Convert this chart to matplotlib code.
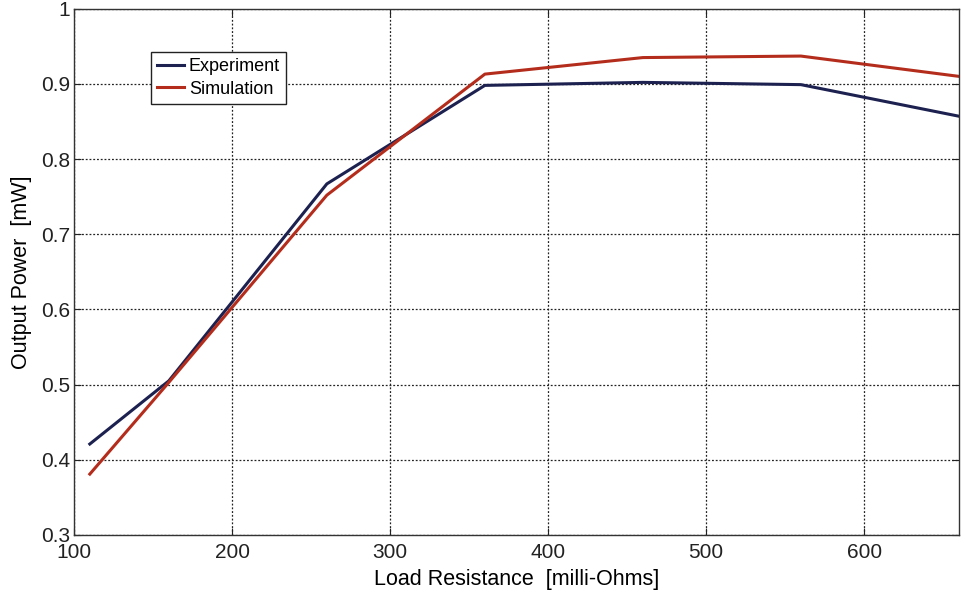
import matplotlib
matplotlib.use("Agg")
import matplotlib.pyplot as plt

plt.rcParams['font.family'] = ['Liberation Sans', 'DejaVu Sans']

resistance = [110, 160, 260, 360, 460, 560, 660]
experiment = [0.421, 0.505, 0.767, 0.898, 0.902, 0.899, 0.857]
simulation = [0.381, 0.503, 0.752, 0.913, 0.935, 0.937, 0.910]

xticks = [100, 200, 300, 400, 500, 600]
yticks = [0.3, 0.4, 0.5, 0.6, 0.7, 0.8, 0.9, 1.0]
yticklabels = ['0.3', '0.4', '0.5', '0.6', '0.7', '0.8', '0.9', '1']

fig = plt.figure(figsize=(9.65, 5.92), dpi=100)
ax = fig.add_axes([0.0767, 0.0963, 0.917, 0.889])

ax.plot(resistance, experiment, color='#1c2150', lw=2.2, label='Experiment')
ax.plot(resistance, simulation, color='#b42d1c', lw=2.2, label='Simulation')

ax.set_xlim(100, 660)
ax.set_ylim(0.3, 1.0)
ax.set_xticks(xticks)
ax.set_yticks(yticks)
ax.set_yticklabels(yticklabels)
ax.tick_params(direction='in', top=True, right=True, labelsize=15, length=5, width=0.8, colors='#222222')
ax.tick_params(axis='x', pad=6)
ax.tick_params(axis='y', pad=3)
ax.grid(True, linestyle=(0, (1.5, 1.5)), color='#222222', lw=0.9)
for s in ax.spines.values():
    s.set_color('#333333')
    s.set_linewidth(1.0)

ax.set_xlabel('Load Resistance  [milli-Ohms]', fontsize=15.5, labelpad=5)
ax.set_ylabel('Output Power  [mW]', fontsize=15.5, labelpad=6)

leg = ax.legend(loc='upper left', bbox_to_anchor=(0.087, 0.918), borderaxespad=0,
                fontsize=13, handlelength=1.5, handletextpad=0.25, borderpad=0.35,
                labelspacing=0.3, fancybox=False, framealpha=1)
leg.get_frame().set_edgecolor('#222222')
leg.get_frame().set_linewidth(1.0)

fig.savefig('out.png', dpi=100)
